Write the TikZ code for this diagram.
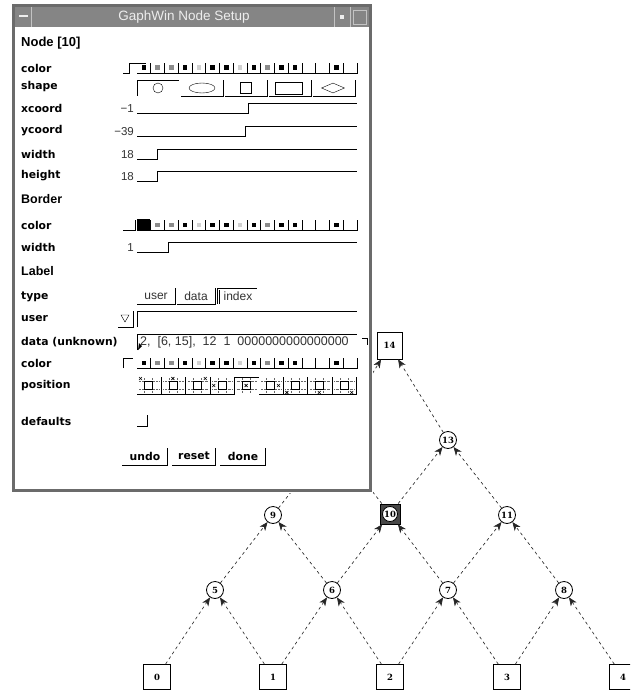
\documentclass[tikz,border=0pt]{standalone}
\usepackage{fontspec}
\setmainfont{Liberation Sans}
\newfontfamily\lblfont{DejaVu Sans}
\newfontfamily\numfont{DejaVu Serif}
\usetikzlibrary{arrows.meta,shapes.geometric}

\definecolor{winframe}{gray}{0.42}
\definecolor{bar}{gray}{0.52}
\definecolor{bartext}{gray}{0.93}
\definecolor{mid}{gray}{0.55}
\definecolor{pale}{gray}{0.82}

\tikzset{
  field/.style = {anchor = west, inner sep = 0pt, font = \lblfont\fontsize{10.8}{13}\selectfont\bfseries},
  head/.style  = {anchor = west, inner sep = 0pt, font = \fontsize{13}{15}\selectfont\bfseries},
  value/.style = {anchor = east, inner sep = 0pt, text = black!80, font = \fontsize{11.5}{13}\selectfont},
  tab/.style   = {inner sep = 0pt, text = black!80, font = \fontsize{12}{14}\selectfont},
  press/.style = {inner sep = 0pt, font = \lblfont\fontsize{10.8}{13}\selectfont\bfseries},
  up/.style    = {line width = .9pt},
  vert/.style  = {circle, draw, line width = .8pt, fill = white, inner sep = 0pt, minimum size = 17pt, font = \numfont\fontsize{8.5}{9}\selectfont\bfseries},
  leaf/.style  = {rectangle, draw, line width = .8pt, inner sep = 0pt, minimum width = 27pt, minimum height = 25pt, font = \numfont\fontsize{8.5}{9}\selectfont\bfseries},
  link/.style  = {-{Stealth[length = 8.5pt, width = 7pt, inset = 2.5pt]}, black!85, line width = .65pt, dash pattern = on 3pt off 3pt},
}

\newcommand{\swatchrow}[1]{%
  \foreach \c [count = \i from 0] in {black,mid,mid,black,pale,black,black,pale,black,mid,black,black,none,none,black,none} {
    \pgfmathsetmacro{\xa}{137 + \i*13.75}
    \pgfmathsetmacro{\xb}{\xa + 13.75}
    \draw [up] (\xa,#1+5) -- (\xb,#1+5) -- (\xb,#1-5);
    \path [fill = \c] (\xa+4.5,#1-2.5) rectangle (\xa+9,#1+2);
  }}

\begin{document}
\begin{tikzpicture}[x = 1pt, y = -1pt]
  \useasboundingbox (0,0) rectangle (630,690);
  \clip (0,0) rectangle (630,690);

  \node (n0)  at (157,677) [leaf] {0};
  \node (n1)  at (273,677) [leaf] {1};
  \node (n2)  at (390,677) [leaf] {2};
  \node (n3)  at (507,677) [leaf] {3};
  \node (n4)  at (623,677) [leaf] {4};
  \node (n5)  at (215,590) [vert] {5};
  \node (n6)  at (332,590) [vert] {6};
  \node (n7)  at (448,590) [vert] {7};
  \node (n8)  at (564,590) [vert] {8};
  \node (n9)  at (273,515) [vert] {9};
  \node (n10) at (390,514) [rectangle, draw, line width = .8pt, fill = black!72, minimum size = 20pt] {};
  \node (n10i) at (n10) [vert, minimum size = 15pt] {10};
  \node (n11) at (507,515) [vert] {11};
  \coordinate (n12) at (332,440);
  \node (n13) at (448,440) [vert] {13};
  \node (n14) at (389.5,345.5) [leaf, minimum width = 25pt, minimum height = 27pt] {14};
  \foreach \a/\b in {0/5,1/5,1/6,2/6,2/7,3/7,3/8,4/8,5/9,6/9,6/10,7/10,7/11,8/11,9/12,10/12,10/13,11/13,12/14,13/14}
    \path [link] (n\a) edge (n\b);

  \fill [white] (11,3) rectangle (373,493);
  \draw [winframe, line width = 3pt] (13.5,5.5) rectangle (370.5,490.5);
  \fill [bar] (15,7) rectangle (369,27);
  \draw [bartext!60!bar, line width = .8pt] (31,7) -- (31,27) (334,7) -- (334,27) (350,7) -- (350,27);
  \draw [bartext, line width = 1.2pt] (19,16) -- (28,16);
  \fill [bartext] (340,15) rectangle (344,19);
  \draw [bartext!60!bar, line width = .8pt] (353,10) rectangle (366,24);
  \node (title) at (184,17) [text = bartext, font = \fontsize{13.5}{15}\selectfont] {GaphWin Node Setup};

  \node (head)   at (21,43)  [head] {Node [10]};
  \node (border) at (21,199) [head, font = \fontsize{12.5}{15}\selectfont\bfseries] {Border};
  \node (label)  at (21,271) [head, font = \fontsize{12.5}{15}\selectfont\bfseries] {Label};
  \foreach \y/\t [count = \i] in {68/color, 87/shape, 108/xcoord, 131/ycoord, 154/width, 176/height, 225/color, 247/width, 297/type, 319/user, 342/data (unknown), 363/color, 386/position, 421/defaults}
    \node (lab\i) at (21,\y) [field] {\t};

  \swatchrow{68}
  \draw [up] (123,73) -- (129,73) -- (129,63) -- (146,63);
  \swatchrow{225}
  \draw [up] (123,230) -- (135,230) -- (135,220);
  \fill (137,219) rectangle (150,231);
  \swatchrow{363}
  \draw [up] (123,368) -- (123,358) -- (133,358);

  \foreach \k in {0,...,4} {
    \pgfmathsetmacro{\xa}{137 + \k*44}
    \pgfmathsetmacro{\xb}{\xa + 42}
    \ifnum\k=0 \draw [up] (\xa,96) -- (\xa,80) -- (\xb,80);
    \else \draw [up] (\xa,96) -- (\xb,96) -- (\xb,80); \fi
  }
  \node (s1) at (158,88) [circle, draw, minimum size = 10pt, inner sep = 0pt] {};
  \node (s2) at (202,88) [ellipse, draw, minimum width = 26pt, minimum height = 10pt, inner sep = 0pt] {};
  \node (s3) at (246,88) [rectangle, draw, minimum size = 11pt, inner sep = 0pt] {};
  \node (s4) at (289,88) [rectangle, draw, minimum width = 27pt, minimum height = 12pt, inner sep = 0pt] {};
  \node (s5) at (333,88) [diamond, draw, aspect = 2, minimum width = 23pt, minimum height = 10pt, inner sep = 0pt] {};

  \foreach \y/\v/\s [count = \i] in {108/−1/248, 131/−39/245, 154/18/157, 176/18/157, 247/1/168} {
    \node (val\i) at (134,\y+1) [value] {\v};
    \draw [up] (137,\y+5) -- (\s,\y+5) -- (\s,\y-5) -- (357,\y-5);
  }

  \node (tuser)  at (156,296) [tab] {user};
  \node (tdata)  at (196,296) [tab] {data};
  \node (tindex) at (238,296) [tab] {index};
  \draw [up] (137,304) -- (175,304) -- (175,288) (177,304) -- (215,304) -- (215,288);
  \draw [up] (217,304) -- (217,288) -- (257,288) (219.5,304) -- (219.5,290);

  \draw [up] (118,327) -- (133,327) -- (133,311);
  \draw (121,315) -- (129,315) -- (125,322) -- cycle;
  \draw [up] (137,327) -- (137,311) -- (357,311);

  \draw [up] (137,350) -- (137,334) -- (357,334);
  \node (dval) at (140,342) [anchor = west, inner sep = 0pt, text = black!80, font = \fontsize{12.5}{14}\selectfont] {2,\ \ [6, 15],\ \ 12\ \ 1\ \ 0000000000000000};
  \fill (138,350) -- (139,343) -- (142,346) -- cycle;
  \draw [up] (362,338) -- (367,338) -- (367,345);

  \foreach \k in {0,...,8} {
    \pgfmathsetmacro{\xa}{137 + \k*24.4}
    \pgfmathsetmacro{\xb}{\xa + 24.4}
    \pgfmathsetmacro{\xc}{\xa + 11.5}
    \pgfmathsetmacro{\px}{\xc + 8*(mod(\k,3)-1)}
    \pgfmathsetmacro{\py}{385.5 + 7*(floor(\k/3)-1)}
    \ifnum\k=4 \draw [up] (\xa,394) -- (\xa,377) -- (\xb,377);
    \else \draw [up] (\xa,394) -- (\xb,394) -- (\xb,377); \fi
    \draw [densely dotted, black!60] (\xa+2,381.5) -- (\xb-2,381.5) (\xa+2,389.5) -- (\xb-2,389.5)
      (\xc-4,378) -- (\xc-4,393) (\xc+4,378) -- (\xc+4,393);
    \draw (\xc-4,381.5) rectangle (\xc+4,389.5);
    \draw [line width = .6pt] (\px-1.5,\py-1.5) -- (\px+1.5,\py+1.5) (\px-1.5,\py+1.5) -- (\px+1.5,\py-1.5);
  }

  \draw [up] (137,426) -- (147,426) -- (147,415);

  \node (undo)  at (145,456) [press] {undo};
  \node (reset) at (194,456) [press] {reset};
  \node (done)  at (243,456) [press] {done};
  \draw [up] (122,465) -- (167,465) -- (167,448) (172,465) -- (215,465) -- (215,448) (220,465) -- (265,465) -- (265,448);
\end{tikzpicture}
\end{document}
